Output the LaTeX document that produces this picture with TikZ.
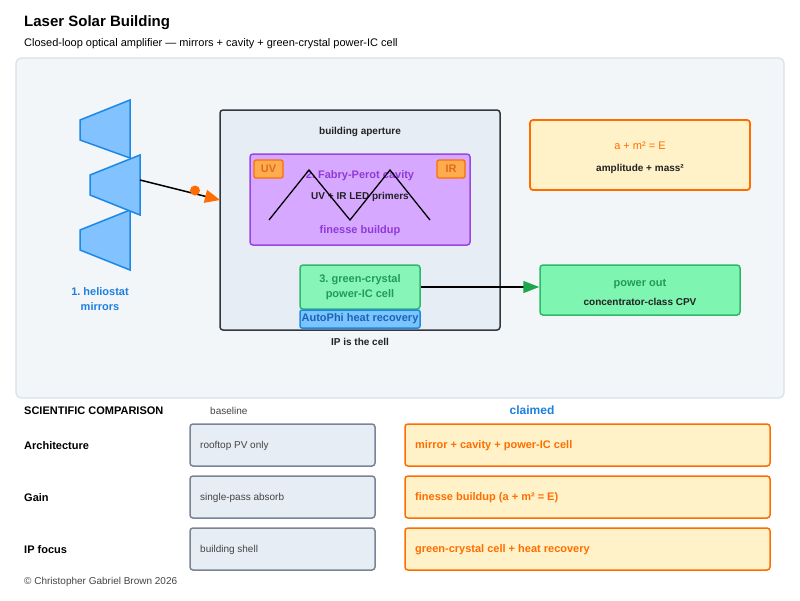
\documentclass[tikz,border=0pt]{standalone}
\usepackage{fontspec}
\setmainfont{Liberation Sans}
\usetikzlibrary{arrows.meta}
\definecolor{panelF}{HTML}{F3F6F9}
\definecolor{panelD}{HTML}{D6E0EA}
\definecolor{mirF}{HTML}{82C3FF}
\definecolor{mirD}{HTML}{1E88E5}
\definecolor{apF}{HTML}{E6EDF5}
\definecolor{apD}{HTML}{33383E}
\definecolor{purF}{HTML}{D7A8FF}
\definecolor{purD}{HTML}{9B45E4}
\definecolor{purT}{HTML}{8E3AD8}
\definecolor{orD}{HTML}{FF6D00}
\definecolor{orF}{HTML}{FFAB4F}
\definecolor{yelF}{HTML}{FFF2C8}
\definecolor{grF}{HTML}{88F5B8}
\definecolor{grD}{HTML}{2DB86B}
\definecolor{grT}{HTML}{1F9D55}
\definecolor{pwF}{HTML}{7EF5B0}
\definecolor{blT}{HTML}{1E7FE0}
\definecolor{blF}{HTML}{7CC4FF}
\definecolor{txt}{HTML}{222222}
\definecolor{gryD}{HTML}{7A8594}
\definecolor{gryT}{HTML}{444444}
\tikzset{
  fs/.style={font=\fontsize{#1pt}{1.3\dimexpr #1pt\relax}\selectfont\frenchspacing},
  bfs/.style={font=\fontsize{#1pt}{1.3\dimexpr #1pt\relax}\selectfont\bfseries\frenchspacing},
  rbox/.style={draw, rounded corners=3pt, line width=1.5pt, inner sep=0pt},
  mirror/.style={fill=mirF, draw=mirD, line width=1.5pt, line join=miter},
  basebox/.style={rbox, draw=gryD, fill=apF, minimum width=185, minimum height=42},
  claimbox/.style={rbox, draw=orD, fill=yelF, minimum width=365, minimum height=42},
}
\begin{document}
\begin{tikzpicture}[x=1pt,y=-1pt]
\useasboundingbox (0,0) rectangle (800,600);
\fill[white] (0,0) rectangle (800,600);
% title
\node[bfs=15, anchor=base west, inner sep=0pt] (title) at (24,26) {Laser Solar Building};
\node[fs=11, anchor=base west, inner sep=0pt] (sub) at (24,46) {Closed-loop optical amplifier — mirrors + cavity + green-crystal power-IC cell};
% panel
\node[draw=panelD, fill=panelF, line width=1.2pt, rounded corners=5pt, minimum width=768, minimum height=340, inner sep=0pt] (panel) at (400,228) {};
% mirrors
\draw[mirror] (80,120) -- (130,100) -- (130,158) -- (80,140) -- cycle;
\draw[mirror] (80,230) -- (130,210) -- (130,270) -- (80,250) -- cycle;
\draw[mirror] (90,175) -- (140,155) -- (140,215) -- (90,195) -- cycle;
\coordinate (m2) at (140,180);
\node[bfs=11, text=blT, align=center, inner sep=0pt] (helio) at (100,299) {1. heliostat\\mirrors};
% aperture
\node[rbox, draw=apD, fill=apF, minimum width=280, minimum height=220] (aper) at (360,220) {};
\coordinate (apin) at (220,200);
\node[bfs=10, text=txt] (aperlbl) at (360,132) {building aperture};
\node[bfs=10, text=txt] (iplbl) at (360,342) {IP is the cell};
% cavity
\node[rbox, draw=purD, fill=purF, minimum width=220, minimum height=91] (cav) at (360,199.5) {};
\node[rbox, draw=orD, fill=orF, minimum width=29, minimum height=18, line width=1.3pt, rounded corners=2pt, bfs=11, text=orD!85!black!90] (uv) at (268.5,169) {UV};
\node[rbox, draw=orD, fill=orF, minimum width=28, minimum height=18, line width=1.3pt, rounded corners=2pt, bfs=11, text=orD!85!black!90] (ir) at (451,169) {IR};
\node[bfs=11, text=purT] (cavt) at (360,176) {2. Fabry-Perot cavity};
\node[bfs=10, text=txt] (cavs) at (360,197) {UV + IR LED primers};
\node[bfs=11, text=purT] (cavf) at (360,231) {finesse buildup};
\draw[black, line width=1.3pt] (269,220) -- (309,170) -- (350,220) -- (390,170) -- (430,220);
% green cell
\node[rbox, draw=grD, fill=grF, minimum width=120, minimum height=44, align=center, bfs=11, text=grT] (cell) at (360,287) {3. green-crystal\\power-IC cell};
\node[rbox, draw=mirD, fill=blF, minimum width=120, minimum height=18, bfs=11, text=blT!80!black, rounded corners=2pt] (auto) at (360,319) {AutoPhi heat recovery};
% formula
\node[rbox, draw=orD, fill=yelF, minimum width=220, minimum height=70, line width=1.8pt] (form) at (640,155) {};
\node[fs=11, text=orD] (formt) at (640,146) {a + m² = E};
\node[bfs=10, text=txt] (forms) at (640,169) {amplitude + mass²};
% power out
\node[rbox, draw=grD, fill=pwF, minimum width=200, minimum height=50] (pw) at (640,290) {};
\node[bfs=11, text=grT] (pwt) at (640,284) {power out};
\node[bfs=10, text=txt] (pws) at (640,302) {concentrator-class CPV};
% arrows
\draw[black, line width=1.5pt, -{Triangle[length=15pt,width=13pt,color=orD,fill=orD]}] (m2) -- (apin);
\fill[orD] (195,190.5) circle (5);
\draw[black, line width=1.5pt, -{Triangle[length=16pt,width=12pt,color=grT!90!green,fill=grT!90!green]}] (cell.east) -- (cell.east -| pw.west);
% comparison
\node[bfs=11, text=black, anchor=base west, inner sep=0pt] (sci) at (24,414.5) {SCIENTIFIC COMPARISON};
\node[fs=10, text=gryT, anchor=base west, inner sep=0pt] (basel) at (210,414.5) {baseline};
\node[bfs=12, text=blT] (claim) at (532,410) {claimed};
\node[bfs=11, anchor=base west, inner sep=0pt] (r1) at (24,449.5) {Architecture};
\node[bfs=11, anchor=base west, inner sep=0pt] (r2) at (24,501.5) {Gain};
\node[bfs=11, anchor=base west, inner sep=0pt] (r3) at (24,553.5) {IP focus};
\node[basebox] (b1) at (282.5,445) {};
\node[basebox] (b2) at (282.5,497) {};
\node[basebox] (b3) at (282.5,549) {};
\node[fs=10, text=gryT, anchor=west, inner sep=0pt] (b1t) at (200,446) {rooftop PV only};
\node[fs=10, text=gryT, anchor=west, inner sep=0pt] (b2t) at (200,498) {single-pass absorb};
\node[fs=10, text=gryT, anchor=west, inner sep=0pt] (b3t) at (200,550) {building shell};
\node[claimbox] (c1) at (587.5,445) {};
\node[claimbox] (c2) at (587.5,497) {};
\node[claimbox] (c3) at (587.5,549) {};
\node[bfs=11, text=orD, anchor=west, inner sep=0pt] (c1t) at (415,446) {mirror + cavity + power-IC cell};
\node[bfs=11, text=orD, anchor=west, inner sep=0pt] (c2t) at (415,498) {finesse buildup (a + m² = E)};
\node[bfs=11, text=orD, anchor=west, inner sep=0pt] (c3t) at (415,550) {green-crystal cell + heat recovery};
\node[fs=10, text=gryT, anchor=base west, inner sep=0pt] (copy) at (24,584.5) {© Christopher Gabriel Brown 2026};
\end{tikzpicture}
\end{document}
